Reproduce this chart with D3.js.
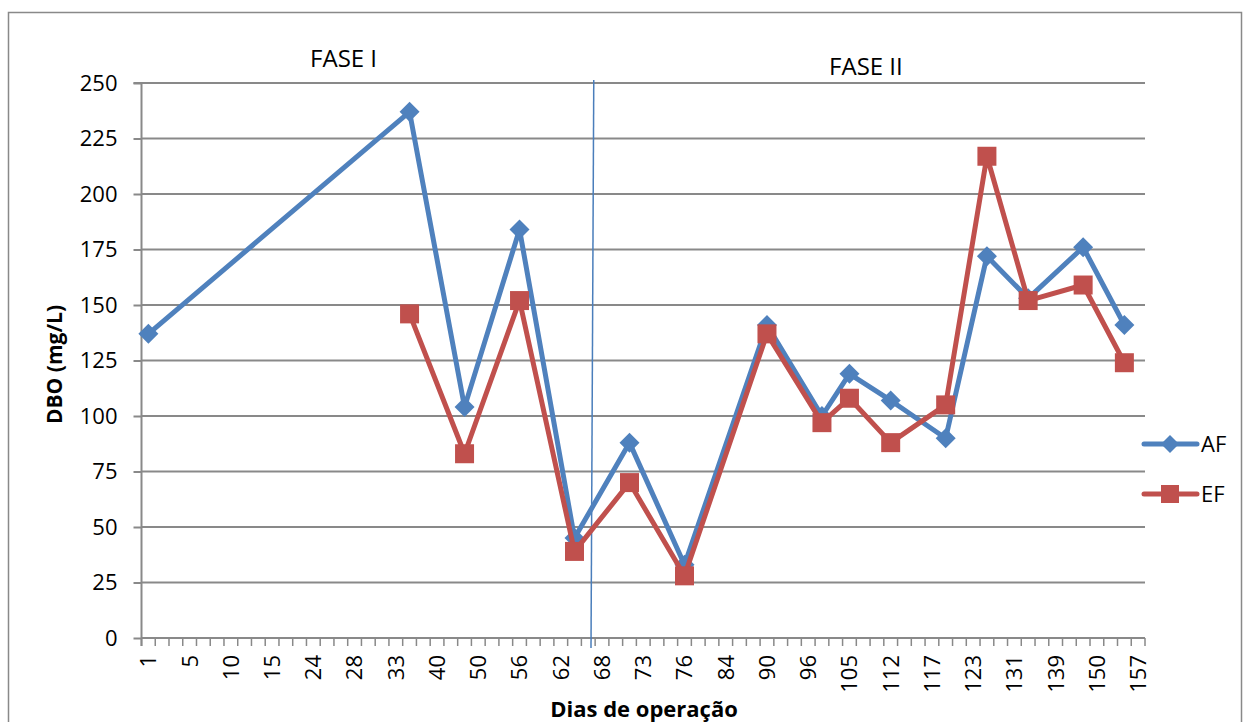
<!DOCTYPE html>
<html>
<head>
<meta charset="utf-8">
<script src="https://cdn.jsdelivr.net/npm/d3@7"></script>
<style>
  html, body { margin: 0; padding: 0; background: #fff; }
  svg { display: block; font-family: "Open Sans", "Liberation Sans", sans-serif; }
</style>
</head>
<body>
<svg id="chart" width="1245" height="722"></svg>
<script>
// Tick labels (operation day), one label for every third category slot
const tickLabels = ["1","5","10","15","24","28","33","40","50","56","62","68","73","76","84","90","96","105","112","117","123","131","139","150","157"];
const slotsPerLabel = 3;
const slotCount = 73;

// Category slot of each sampling, and DBO (mg/L) per series
const sampleSlot = [0, 19, 23, 27, 31, 35, 39, 45, 49, 51, 54, 58, 61, 64, 68, 71];
const afDBO = [137, 237, 104, 184, 45, 88, 33, 141, 100, 119, 107, 90, 172, 153, 176, 141];
const efDBO = [null, 146, 83, 152, 39, 70, 28, 137, 97, 108, 88, 105, 217, 152, 159, 124];

const yTicks = [0, 25, 50, 75, 100, 125, 150, 175, 200, 225, 250];
const seriesNames = ["AF", "EF"];
const seriesColors = ["#4F81BD", "#C0504D"];

const svg = d3.select("#chart");
const gridColor = "#898989";

// Outer chart frame
svg.append("rect")
  .attr("x", 8.5).attr("y", 12.5).attr("width", 1233).attr("height", 730)
  .attr("fill", "none").attr("stroke", gridColor).attr("stroke-width", 1.5);

const plot = { left: 141.5, right: 1145, top: 83, bottom: 638 };

const x = d3.scaleBand()
  .domain(d3.range(slotCount))
  .range([plot.left, plot.right])
  .paddingInner(0).paddingOuter(0);
const step = x.step();
const cx = i => x(i) + step / 2;
// position for a fractional slot (used for annotations placed between slots)
const slotX = v => x(0) + (v + 0.5) * step;

const y = d3.scaleLinear().domain([0, 250]).range([plot.bottom, plot.top]);

// Horizontal gridlines
svg.append("g")
  .selectAll("line")
  .data(yTicks.filter(d => d > 0))
  .join("line")
  .attr("x1", plot.left).attr("x2", plot.right)
  .attr("y1", d => y(d)).attr("y2", d => y(d))
  .attr("stroke", gridColor).attr("stroke-width", 2);

// Y axis
const yAxis = svg.append("g")
  .attr("transform", `translate(${plot.left},0)`)
  .call(d3.axisLeft(y).tickValues(yTicks).tickSize(8).tickPadding(16));
yAxis.select(".domain").attr("stroke", gridColor).attr("stroke-width", 2)
  .attr("d", `M-8,${plot.top}H0V${plot.bottom + 8}`);
yAxis.selectAll(".tick line").attr("stroke", gridColor).attr("stroke-width", 2);
yAxis.selectAll(".tick text")
  .attr("font-size", 22).attr("fill", "#000")
  .attr("font-family", "'Open Sans', sans-serif");

// X axis: a tick at every slot boundary, a label at every third slot
const xAxisG = svg.append("g").attr("transform", `translate(0,${plot.bottom})`);
xAxisG.append("line")
  .attr("x1", plot.left).attr("x2", plot.right)
  .attr("y1", 0).attr("y2", 0)
  .attr("stroke", gridColor).attr("stroke-width", 2);
xAxisG.selectAll("line.tick")
  .data(d3.range(slotCount + 1))
  .join("line")
  .attr("class", "tick")
  .attr("x1", i => plot.left + i * step).attr("x2", i => plot.left + i * step)
  .attr("y1", 0).attr("y2", 8)
  .attr("stroke", gridColor).attr("stroke-width", 1.5);
xAxisG.selectAll("text")
  .data(tickLabels)
  .join("text")
  .attr("transform", (d, k) => `translate(${cx(k * slotsPerLabel)},17) rotate(-90)`)
  .attr("text-anchor", "end")
  .attr("dy", "0.36em")
  .attr("font-size", 22)
  .attr("fill", "#000")
  .text(d => d);

// Axis titles
svg.append("text")
  .attr("transform", `translate(62,${(plot.top + plot.bottom) / 2 + 4}) rotate(-90)`)
  .attr("text-anchor", "middle")
  .attr("font-size", 21).attr("font-weight", "bold")
  .text("DBO (mg/L)");
svg.append("text")
  .attr("x", 644).attr("y", 717)
  .attr("text-anchor", "middle")
  .attr("font-size", 22).attr("font-weight", "bold")
  .text("Dias de operação");

// Phase boundary and phase labels
svg.append("line")
  .attr("x1", slotX(32.4)).attr("y1", plot.top - 3)
  .attr("x2", slotX(32.2)).attr("y2", plot.bottom + 10)
  .attr("stroke", "#4A7EBB").attr("stroke-width", 1.5);
svg.append("text")
  .attr("x", slotX(14.2)).attr("y", 67)
  .attr("text-anchor", "middle").attr("font-size", 24)
  .text("FASE I");
svg.append("text")
  .attr("x", slotX(52.2)).attr("y", 75)
  .attr("text-anchor", "middle").attr("font-size", 24)
  .text("FASE II");

// Series
const diamond = r => `M0,${-r}L${r},0L0,${r}L${-r},0Z`;
const square = s => `M${-s / 2},${-s / 2}h${s}v${s}h${-s}Z`;
const markers = [diamond(10), square(19)];

[afDBO, efDBO].forEach((vals, si) => {
  const pts = sampleSlot.map((s, k) => ({ slot: s, v: vals[k] })).filter(p => p.v != null);
  const line = d3.line().x(p => cx(p.slot)).y(p => y(p.v));
  const g = svg.append("g");
  g.append("path")
    .datum(pts)
    .attr("d", line)
    .attr("fill", "none")
    .attr("stroke", seriesColors[si])
    .attr("stroke-width", 5)
    .attr("stroke-linejoin", "round")
    .attr("stroke-linecap", "round");
  g.selectAll("path.mk")
    .data(pts)
    .join("path")
    .attr("class", "mk")
    .attr("transform", p => `translate(${cx(p.slot)},${y(p.v)})`)
    .attr("d", markers[si])
    .attr("fill", seriesColors[si]);
});

// Legend
const legendY = [444, 494];
seriesNames.forEach((name, si) => {
  const g = svg.append("g").attr("transform", `translate(0,${legendY[si]})`);
  g.append("line")
    .attr("x1", 1144).attr("x2", 1197).attr("y1", 0).attr("y2", 0)
    .attr("stroke", seriesColors[si]).attr("stroke-width", 5)
    .attr("stroke-linecap", "round");
  g.append("path")
    .attr("transform", "translate(1170,0)")
    .attr("d", si === 0 ? diamond(9) : square(18))
    .attr("fill", seriesColors[si]);
  g.append("text")
    .attr("x", 1201).attr("y", 0).attr("dy", "0.35em")
    .attr("font-size", 22)
    .text(name);
});
</script>
</body>
</html>
